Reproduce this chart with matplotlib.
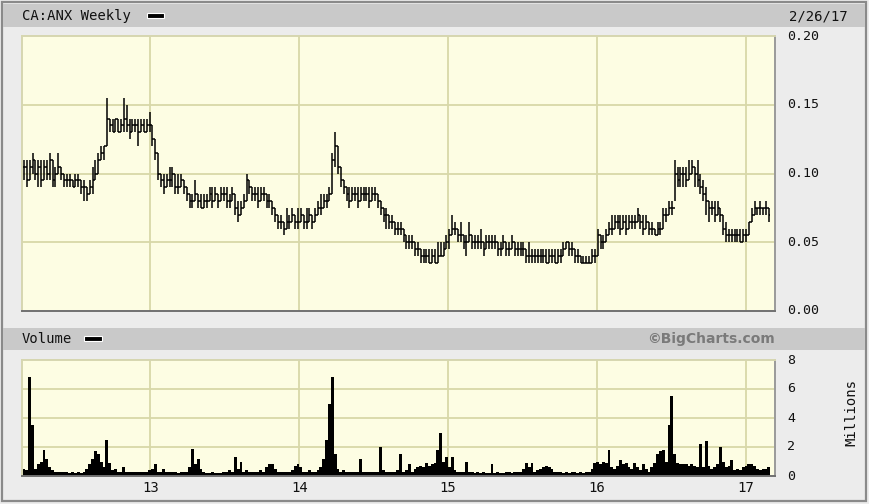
import matplotlib
matplotlib.use('Agg')
import matplotlib.pyplot as plt
import matplotlib.dates as mdates
import matplotlib.transforms as mtransforms
from matplotlib.patches import Rectangle
from matplotlib.collections import LineCollection
import numpy as np
import pandas as pd

# ---------------- data (prices in cents, volume in millions) ----------------
title = "CA:ANX Weekly"
date_label = "2/26/17"
first_week = "2012-02-26"
n_weeks = 262

close_c = [
    10.5, 9.5, 10.5, 11, 10, 10.5, 9.5, 10.5, 10, 11, 9.5, 10, 10.5, 10,
    9.5, 9.5, 9.5, 9, 9.5, 9.5, 9, 9, 8.5, 9,
    9.5, 10, 11, 11.5, 12,
    14,
    13.5, 13, 14, 13, 13.5,
    14,
    13.5, 13, 13.5, 13.5, 13, 13.5, 13, 13.5, 13.5,
    12.5, 11.5, 10,
    9.5, 9, 9.5, 9.5, 10, 9, 9, 9.5, 9,
    8.5, 8, 8, 8.5, 8, 7.5, 8, 8, 8.5,
    8, 8.5, 8, 8.5, 8.5, 8, 8, 8.5, 7.5, 7, 7.5, 8,
    9.5, 9,
    8.5, 8.5, 8, 8.5, 8.5, 8, 8, 7.5, 7,
    6.5, 6.5, 6, 6.5, 6.5, 7, 6.5, 6.5, 7, 6.5, 6.5, 7, 6.5,
    7, 7.5, 7.5, 8, 8, 8.5,
    11, 12,
    10.5, 9.5, 9,
    8.5, 8, 8.5, 8.5, 8, 8.5, 8.5, 8.5, 8, 8.5, 8.5, 8,
    7.5, 7, 7, 6.5, 6.5, 6, 6, 6,
    5.5, 5, 5, 5, 4.5,
    4.5, 4, 4, 4, 3.5, 4, 3.5, 4, 4, 4.5,
    5, 5.5, 6, 6,
    5.5, 5.5, 5, 5, 5.5, 5, 5, 5, 5, 4.5, 5, 5, 5, 5, 4.5, 4.5, 5, 4.5, 4.5, 5, 4.5, 4.5, 4.5, 4.5,
    4, 4, 4, 4, 4, 4, 4, 3.5, 4, 4, 3.5, 4, 4,
    4.5, 5, 4.5, 4.5, 4,
    4, 3.5, 3.5, 3.5, 3.5, 4, 4,
    5.5, 5, 5, 5.5,
    6, 6, 6.5, 6.5, 6, 6.5, 6, 6.5, 6.5, 6.5, 7, 6.5, 6, 6.5, 6, 6, 5.5, 6, 6,
    7, 7, 7.5, 7.5,
    10, 9.5, 10, 10, 9.5, 10, 10.5, 10, 9.5,
    9, 8.5, 8, 7.5,
    7.5, 7, 7.5, 7,
    6, 5.5, 5.5, 5.5, 5.5, 5.5, 5, 5.5, 5.5,
    6.5, 7, 7.5, 7.5, 7.5, 7.5, 7.5, 7,
]

high_c = [
    11, 11, 11, 11.5, 11, 11, 11, 11, 11, 11.5, 11, 10.5, 11.5, 10.5,
    10, 10, 10, 9.5, 10, 10, 9.5, 9.5, 9, 9.5,
    10.5, 11, 11.5, 12, 12,
    15.5,
    14, 14, 14, 14, 14,
    15.5,
    15, 14, 14, 14, 14, 14, 14, 14, 14.5,
    13.5, 12.5, 11.5,
    10, 10, 10, 10.5, 10.5, 10, 10, 10, 9.5,
    9, 8.5, 8.5, 9.5, 8.5, 8.5, 8.5, 8.5, 9,
    9, 9, 8.5, 9, 9, 9, 8.5, 9, 8.5, 8, 8, 8.5,
    10, 9.5,
    9, 9, 9, 9, 9, 8.5, 8.5, 8, 7.5,
    7, 7, 6.5, 7.5, 7, 7.5, 7, 7.5, 7.5, 7, 7.5, 7.5, 7,
    7.5, 8, 8.5, 8.5, 8.5, 9,
    11.5, 13,
    12, 10.5, 9.5,
    9, 9, 9, 9, 9, 9, 9, 9, 9, 9, 9, 8.5,
    8, 7.5, 7.5, 7, 7, 6.5, 6.5, 6.5,
    6, 5.5, 5.5, 5.5, 5,
    5, 4.5, 4.5, 4.5, 4.5, 4.5, 4.5, 5, 5, 5,
    5.5, 6, 7, 6.5,
    6, 6.5, 5.5, 5.5, 6.5, 5.5, 5.5, 5.5, 6, 5, 5.5, 5.5, 5.5, 5.5, 5, 5, 5.5, 5, 5, 5.5, 5, 5, 5, 5,
    4.5, 5, 4.5, 4.5, 4.5, 4.5, 4.5, 4.5, 4.5, 4.5, 4.5, 4.5, 4.5,
    5, 5, 5, 5, 4.5,
    4.5, 4, 4, 4, 4, 4.5, 4.5,
    6, 5.5, 5.5, 6,
    6.5, 7, 7, 7, 7, 7, 7, 7, 7, 7, 7.5, 7, 7, 7, 6.5, 6.5, 6, 6.5, 6.5,
    7.5, 7.5, 8, 8,
    11, 10.5, 10.5, 10.5, 10.5, 11, 11, 10.5, 11,
    10, 9.5, 9, 8,
    8, 8, 8, 7.5,
    7, 6.5, 6, 6, 6, 6, 6, 6, 6,
    6.5, 7.5, 8, 7.5, 8, 7.5, 8, 7.5,
]

low_c = [
    9.5, 9, 9.5, 10, 9.5, 9, 9, 9.5, 9.5, 9.5, 9, 9, 10, 9.5,
    9, 9, 9, 9, 9, 9, 8.5, 8, 8, 8.5,
    8.5, 9.5, 10, 11, 11,
    12,
    13, 13, 13, 13, 13,
    13,
    13, 12.5, 13, 13, 12, 13, 13, 13, 13,
    12, 11, 9.5,
    9, 8.5, 9, 9, 9, 8.5, 8.5, 9, 8.5,
    8, 7.5, 7.5, 8, 7.5, 7.5, 7.5, 7.5, 8,
    7.5, 8, 7.5, 8, 8, 7.5, 7.5, 8, 7, 6.5, 7, 7.5,
    8, 8.5,
    8, 8, 7.5, 8, 8, 7.5, 7.5, 7, 6.5,
    6, 6, 5.5, 6, 6, 6.5, 6, 6, 6.5, 6, 6, 6.5, 6,
    6.5, 7, 7, 7.5, 7.5, 8,
    8.5, 10.5,
    10, 9, 8.5,
    8, 7.5, 8, 8, 7.5, 8, 8, 8, 7.5, 8, 8, 7.5,
    7, 6.5, 6, 6, 6, 5.5, 5.5, 5.5,
    5, 4.5, 4.5, 4.5, 4,
    4, 3.5, 3.5, 3.5, 3.5, 3.5, 3.5, 3.5, 4, 4,
    4.5, 4.5, 5.5, 5.5,
    5, 5, 4.5, 4, 5, 4.5, 4.5, 4.5, 4.5, 4, 4.5, 4.5, 4.5, 4.5, 4, 4, 4.5, 4, 4, 4.5, 4, 4, 4, 4,
    3.5, 3.5, 3.5, 3.5, 3.5, 3.5, 3.5, 3.5, 3.5, 3.5, 3.5, 3.5, 3.5,
    4, 4.5, 4, 4, 3.5,
    3.5, 3.5, 3.5, 3.5, 3.5, 3.5, 3.5,
    4, 4.5, 4.5, 5,
    5.5, 5.5, 6, 6, 5.5, 6, 5.5, 6, 6, 6, 6.5, 6, 5.5, 6, 5.5, 5.5, 5.5, 5.5, 5.5,
    6, 6.5, 7, 7,
    8, 9, 9, 9, 9, 9.5, 10, 9, 9,
    8.5, 8, 7, 6.5,
    7, 6.5, 7, 6.5,
    5.5, 5, 5, 5, 5, 5, 5, 5, 5,
    5.5, 6.5, 7, 7, 7, 7, 7, 6.5,
]

volume_m = [
    0.5, 0.4, 6.8, 3.5, 0.5, 0.8, 1.0, 1.8, 1.2, 0.6,
    0.4, 0.25, 0.3, 0.3, 0.25, 0.25, 0.2, 0.25, 0.2, 0.25,
    0.2, 0.25, 0.5, 0.8, 1.2, 1.7, 1.5, 1.0, 0.6, 2.5,
    0.9, 0.4, 0.5, 0.3, 0.3, 0.6, 0.3, 0.25, 0.3, 0.25,
    0.3, 0.25, 0.25, 0.3, 0.4, 0.5, 0.8, 0.3, 0.25, 0.5,
    0.3, 0.25, 0.25, 0.25, 0.2, 0.25, 0.25, 0.3, 0.6, 1.85,
    0.8, 1.2, 0.5, 0.25, 0.2, 0.2, 0.25, 0.2, 0.2, 0.2,
    0.25, 0.3, 0.4, 0.3, 1.3, 0.5, 1.0, 0.3, 0.4, 0.25,
    0.3, 0.25, 0.3, 0.4, 0.3, 0.6, 0.8, 0.8, 0.5, 0.3,
    0.25, 0.3, 0.25, 0.3, 0.4, 0.7, 0.8, 0.6, 0.3, 0.3,
    0.4, 0.3, 0.3, 0.4, 0.6, 1.2, 2.5, 5.0, 6.8, 1.5,
    0.5, 0.3, 0.4, 0.3, 0.25, 0.25, 0.3, 0.25, 1.2, 0.25,
    0.25, 0.3, 0.25, 0.3, 0.25, 2.0, 0.4, 0.25, 0.3, 0.25,
    0.3, 0.4, 1.5, 0.3, 0.4, 0.8, 0.3, 0.5, 0.6, 0.7,
    0.6, 0.9, 0.7, 0.8, 0.9, 1.8, 3.0, 1.0, 1.3, 0.6,
    1.3, 0.4, 0.3, 0.3, 0.3, 1.0, 0.25, 0.25, 0.2, 0.25,
    0.2, 0.25, 0.2, 0.2, 0.8, 0.2, 0.25, 0.2, 0.2, 0.25,
    0.25, 0.2, 0.25, 0.25, 0.3, 0.5, 0.9, 0.6, 0.9, 0.3,
    0.4, 0.5, 0.6, 0.7, 0.6, 0.5, 0.3, 0.25, 0.25, 0.2,
    0.25, 0.2, 0.25, 0.25, 0.2, 0.25, 0.2, 0.3, 0.25, 0.5,
    0.9, 1.0, 0.8, 1.0, 0.9, 1.8, 0.6, 0.5, 0.7, 1.1,
    0.8, 0.9, 0.6, 0.5, 0.9, 0.6, 0.4, 0.8, 0.5, 0.3,
    0.6, 0.9, 1.5, 1.7, 1.8, 1.0, 3.5, 5.5, 1.5, 0.9,
    0.8, 0.8, 0.8, 0.7, 0.8, 0.7, 0.6, 2.2, 0.6, 2.4,
    0.7, 0.5, 0.6, 0.8, 2.0, 1.0, 0.6, 0.7, 1.1, 0.4,
    0.5, 0.4, 0.6, 0.7, 0.8, 0.8, 0.7, 0.5, 0.4, 0.5,
    0.5, 0.6,
]

price_ticks = [0.00, 0.05, 0.10, 0.15, 0.20]
price_tick_labels = ["0.00", "0.05", "0.10", "0.15", "0.20"]
vol_ticks = [0, 2, 4, 6, 8]
vol_tick_labels = ["0", "2", "4", "6", "8"]
year_ticks = ["2013-01-01", "2014-01-01", "2015-01-01", "2016-01-01", "2017-01-01"]
year_labels = ["13", "14", "15", "16", "17"]
x_start, x_end = "2012-02-21", "2017-03-13"

# ---------------- styling ----------------
W, H = 870, 504
BG = '#ececec'
BAR = '#c9c9c9'
FACE = '#fdfde3'
GRID = '#d8d8a8'
MONO = 'DejaVu Sans Mono'


def fx(x):
    return x / W


def fy(y):
    return 1 - y / H


fig = plt.figure(figsize=(W / 100, H / 100), dpi=100)
fig.patch.set_facecolor(BG)

# outer frame and header bars
fig.add_artist(Rectangle((fx(2), fy(501)), fx(864), 499 / H, transform=fig.transFigure,
                         facecolor='none', edgecolor='#8a8a8a', lw=1.6))
fig.add_artist(Rectangle((fx(3), fy(27)), fx(862), 23 / H, transform=fig.transFigure,
                         facecolor=BAR, edgecolor='none'))
fig.add_artist(Rectangle((fx(3), fy(350)), fx(862), 22 / H, transform=fig.transFigure,
                         facecolor=BAR, edgecolor='none'))

# header texts
fig.text(fx(22), fy(16), title, family=MONO, fontsize=10, va='center', ha='left', color='#111111')
fig.add_artist(Rectangle((fx(147), fy(18)), fx(17), 5 / H, transform=fig.transFigure,
                         facecolor='black', edgecolor='white', lw=0.8))
fig.text(fx(848), fy(16), date_label, family=MONO, fontsize=10, va='center', ha='right', color='#111111')
fig.text(fx(22), fy(339), "Volume", family=MONO, fontsize=10, va='center', ha='left', color='#111111')
fig.add_artist(Rectangle((fx(84), fy(341)), fx(18), 5 / H, transform=fig.transFigure,
                         facecolor='black', edgecolor='white', lw=0.8))
fig.text(fx(775), fy(339), "\u00a9BigCharts.com", fontsize=10, fontweight='bold',
         va='center', ha='right', color='#7a7a7a')

dates = pd.date_range(first_week, periods=n_weeks, freq='7D')
xd = mdates.date2num(dates.to_pydatetime())
close = np.array(close_c) / 100.0
high = np.array(high_c) / 100.0
low = np.array(low_c) / 100.0
vol = np.array(volume_m)
year_x = mdates.date2num(pd.to_datetime(year_ticks).to_pydatetime())
xlim = (mdates.date2num(pd.Timestamp(x_start)), mdates.date2num(pd.Timestamp(x_end)))


def style_axes(ax):
    ax.set_facecolor(FACE)
    ax.set_xlim(*xlim)
    ax.set_xticks(year_x)
    ax.tick_params(length=0, labelbottom=False, labelleft=False)
    ax.grid(True, color=GRID, lw=1.3)
    ax.set_axisbelow(True)
    ax.spines['top'].set_color('#d6d6b0')
    ax.spines['left'].set_color('#d6d6b0')
    ax.spines['bottom'].set_color('#707070')
    ax.spines['right'].set_color('#9a9a9a')
    for s in ax.spines.values():
        s.set_linewidth(1.4)


# ---------------- price panel ----------------
axp = fig.add_axes([fx(22), fy(311), fx(753), 275 / H])
style_axes(axp)
axp.set_ylim(0, 0.20)
axp.set_yticks(price_ticks[1:-1])
tick = 3.5
opens = np.concatenate([[close[0]], close[:-1]])
segs = []
for i in range(n_weeks):
    segs.append([(xd[i], low[i]), (xd[i], high[i])])
    segs.append([(xd[i] - tick, opens[i]), (xd[i], opens[i])])
    segs.append([(xd[i], close[i]), (xd[i] + tick, close[i])])
axp.add_collection(LineCollection(segs, colors='black', linewidths=1.1))

trp = mtransforms.blended_transform_factory(axp.transAxes, axp.transData)
for v, lab in zip(price_ticks, price_tick_labels):
    axp.text(1.016, v, lab, transform=trp, fontsize=9.5, family=MONO, va='center', ha='left',
             color='#111111', clip_on=False)

# ---------------- volume panel ----------------
axv = fig.add_axes([fx(22), fy(476), fx(753), 116 / H])
style_axes(axv)
axv.set_ylim(0, 8)
axv.set_yticks(vol_ticks[1:-1])
axv.bar(xd, vol, width=7.0, color='black', edgecolor='none', align='center')

trv = mtransforms.blended_transform_factory(axv.transAxes, axv.transData)
for v, lab in zip(vol_ticks, vol_tick_labels):
    axv.text(1.016, v, lab, transform=trv, fontsize=9.5, family=MONO, va='center', ha='left',
             color='#111111', clip_on=False)
fig.text(fx(851), fy(413), "Millions", family=MONO, fontsize=10, rotation=90,
         va='center', ha='center', color='#111111')

trx = mtransforms.blended_transform_factory(axv.transData, axv.transAxes)
for xv, lab in zip(year_x, year_labels):
    axv.text(xv, -0.1, lab, transform=trx, fontsize=10, family=MONO, va='center', ha='center',
             color='#111111', clip_on=False)

fig.savefig('out.png', dpi=100, facecolor=fig.get_facecolor())
